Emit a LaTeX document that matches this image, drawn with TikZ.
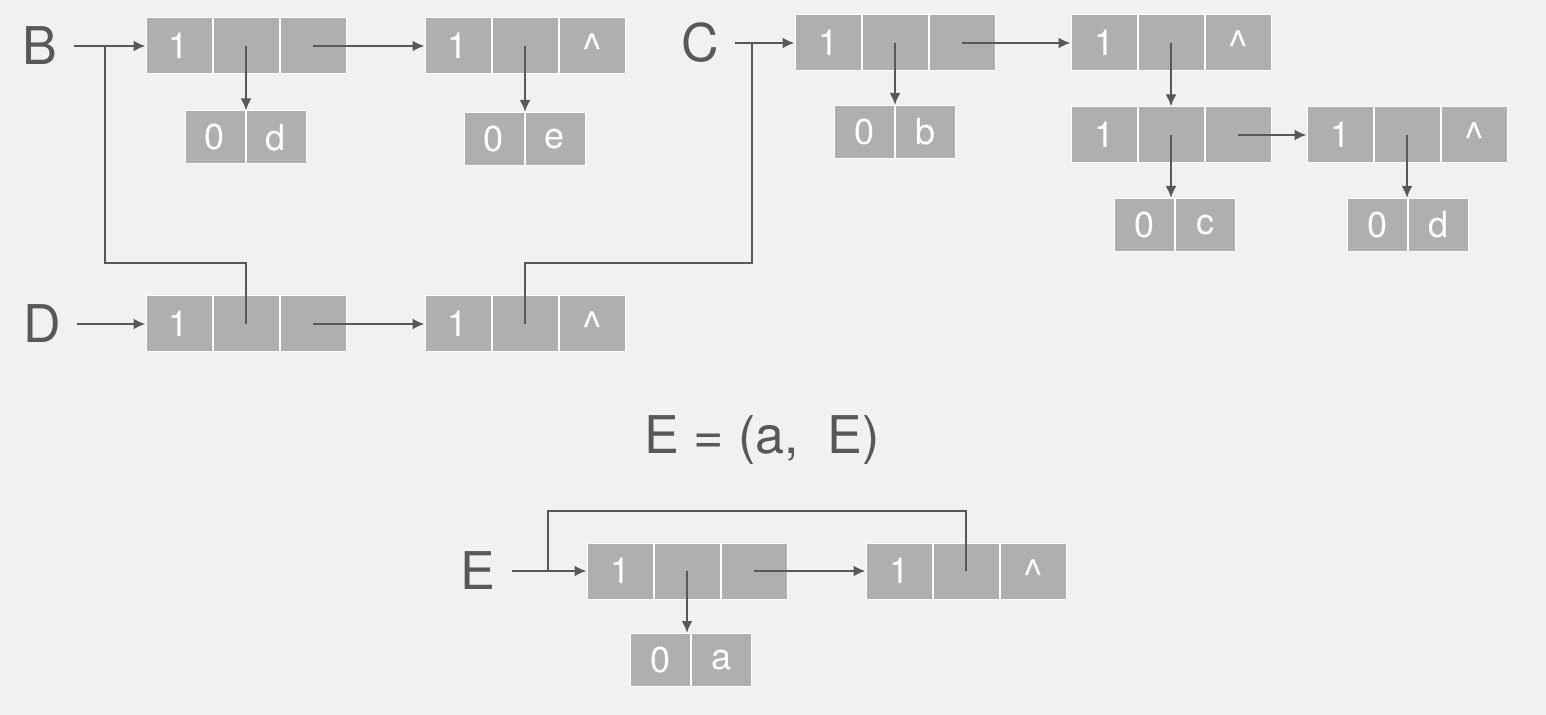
\documentclass[tikz,border=0pt]{standalone}
\usepackage{fontspec}
\setmainfont{TeX Gyre Heros}
\usetikzlibrary{positioning,arrows.meta}
\definecolor{bgcol}{RGB}{240,241,243}
\definecolor{cellcol}{RGB}{175,175,175}
\definecolor{ink}{RGB}{88,88,88}

% three-field list node: tag | hp | tp
\newcommand{\listnode}[4]{%
  \node[cell] (#1a) at (#2) {#3};
  \node[cell,right=0pt of #1a] (#1b) {};
  \node[cell,right=0pt of #1b] (#1c) {#4};}
% atom node: tag | value
\newcommand{\atomnode}[3]{%
  \node[atom] (#1a) at (#2) {0};
  \node[atom,right=0pt of #1a] (#1b) {#3};}
% end-of-list mark
\newcommand{\nilmark}{{\fontsize{21}{21}\selectfont\raisebox{-9pt}[0pt][0pt]{\textasciicircum}}}

\begin{document}
\begin{tikzpicture}[x=0.5pt,y=-0.5pt,
  cell/.style={rectangle,fill=cellcol,draw=white,line width=0.5pt,minimum width=33pt,minimum height=28pt,inner sep=0pt,text=white,font=\fontsize{18}{18}\selectfont},
  atom/.style={cell,minimum width=30pt,minimum height=26.5pt},
  lab/.style={text=ink,inner sep=8pt,font=\fontsize{26}{26}\selectfont},
  line/.style={draw=ink,line width=1.2pt},
  arr/.style={line,-{Latex[length=6pt,width=5.5pt]}}]
\fill[bgcol] (0,0) rectangle (1546,715);

% B
\node[lab] (blab) at (40,46) {B};
\listnode{b1}{179,46}{1}{}
\listnode{b2}{458,46}{1}{\nilmark}
\atomnode{bd}{215,137.5}{d}
\atomnode{be}{494,139}{e}
\draw[arr] (blab) -- (b1a);
\draw[arr] (b1c.center) -- (b2a);
\draw[arr] (b1b.center) -- (b1b.center |- bda.north);
\draw[arr] (b2b.center) -- (b2b.center |- bea.north);

% C
\node[lab] (clab) at (700,43) {C};
\listnode{c1}{828,43}{1}{}
\listnode{c2}{1104,43}{1}{\nilmark}
\listnode{c3}{1104,135}{1}{}
\listnode{c4}{1340,135}{1}{\nilmark}
\atomnode{cb}{864,132}{b}
\atomnode{cc}{1144,225}{c}
\atomnode{cd}{1377,225}{d}
\draw[arr] (clab) -- (c1a);
\draw[arr] (c1c.center) -- (c2a);
\draw[arr] (c3c.center) -- (c4a);
\draw[arr] (c1b.center) -- (c1b.center |- cba.north);
\draw[arr] (c2b.center) -- (c3b);
\draw[arr] (c3b.center) -- (c3b.center |- cca.north);
\draw[arr] (c4b.center) -- (c4b.center |- cda.north);

% D
\node[lab] (dlab) at (42,324) {D};
\listnode{d1}{179,324}{1}{}
\listnode{d2}{458,324}{1}{\nilmark}
\draw[arr] (dlab) -- (d1a);
\draw[arr] (d1c.center) -- (d2a);

% shared sublists
\coordinate (bturn) at (105,263);
\coordinate (bjoin) at (105,46);
\coordinate (cturn) at (752,263);
\coordinate (cjoin) at (752,43);
\draw[line] (d1b.center) |- (bturn) -- (bjoin);
\draw[line] (d2b.center) |- (cturn) -- (cjoin);

% E
\node[text=ink,font=\fontsize{26}{26}\selectfont] (title) at (762,440) {E = (a,\ \ E)};
\node[lab] (elab) at (478,571) {E};
\listnode{e1}{620,571}{1}{}
\listnode{e2}{899,571}{1}{\nilmark}
\atomnode{ea}{660,660}{a}
\draw[arr] (elab) -- (e1a);
\draw[arr] (e1c.center) -- (e2a);
\draw[arr] (e1b.center) -- (e1b.center |- eaa.north);
\coordinate (eturn) at (548,511);
\coordinate (ejoin) at (548,571);
\draw[line] (e2b.center) |- (eturn) -- (ejoin);
\end{tikzpicture}
\end{document}
